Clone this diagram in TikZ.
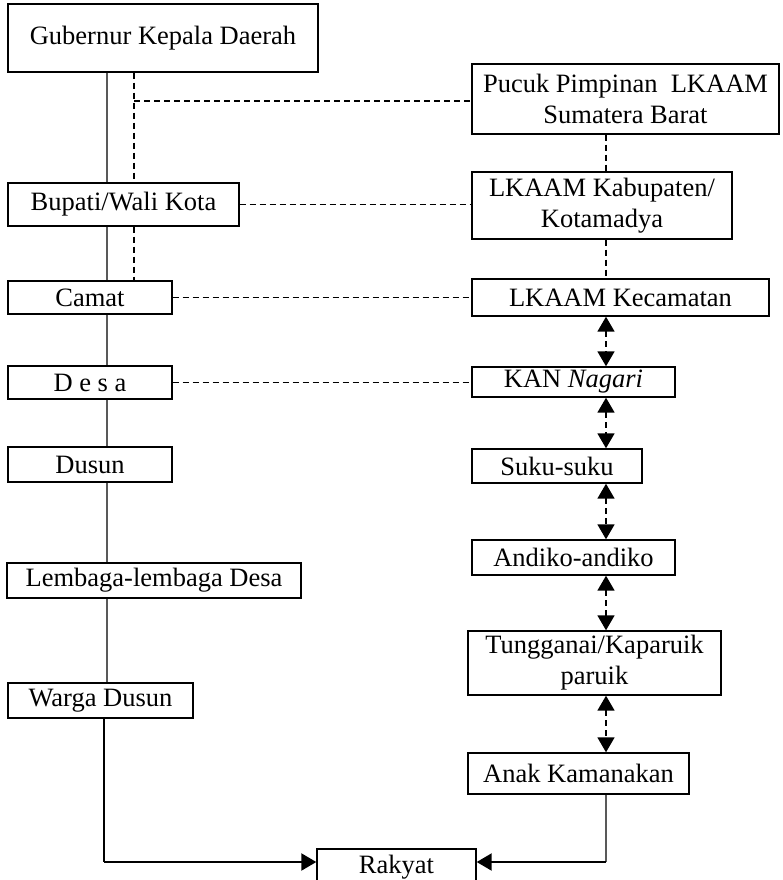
\documentclass[tikz,border=0pt]{standalone}
\usepackage{fontspec}
\setmainfont{Liberation Serif}
\usetikzlibrary{arrows.meta}
\newcommand{\mybx}[6]{\node[boxst, minimum width={(#4-#2)*1pt}, minimum height={(#5-#3)*1pt}] (#1) at ({(#2+#4)/2},{(#3+#5)/2}) {#6};}
\begin{document}
\begin{tikzpicture}[x=1pt,y=-1pt,
  boxst/.style={draw, line width=1.4pt, fill=white, inner sep=0pt, align=center, font=\fontsize{26.5}{31}\selectfont},
  solidln/.style={draw=black!65, line width=1.1pt},
  dashln/.style={draw=black, line width=1.7pt, dash pattern=on 6pt off 4pt},
  tip/.tip={Triangle[length=15pt,width=17pt]},
  dblarr/.style={dashln, {tip}-{tip}},
  onearr/.style={draw=black, line width=2.2pt, -{tip}}
]
\useasboundingbox (0,0) rectangle (782,880);
\clip (0,0) rectangle (782,880);
% left column
\mybx{gub}{8}{4}{318}{72}{Gubernur Kepala Daerah}
\mybx{bup}{8}{183}{239}{226}{Bupati/Wali Kota}
\mybx{cam}{8}{281}{172}{314}{Camat}
\mybx{desa}{8}{366}{172}{399}{D e s a}
\mybx{dusun}{8}{447}{172}{482}{Dusun}
\mybx{lemb}{7}{563}{301}{598}{Lembaga-lembaga Desa}
\mybx{warga}{8}{683}{193}{718}{Warga Dusun}
% right column
\mybx{pucuk}{472}{64}{779}{134}{Pucuk Pimpinan~~LKAAM\\Sumatera Barat}
\mybx{kab}{472}{172}{732}{239}{LKAAM Kabupaten/\\Kotamadya}
\mybx{kec}{472}{279}{769}{316}{LKAAM Kecamatan}
\mybx{kan}{472}{367}{675}{397}{KAN \textit{Nagari}}
\mybx{suku}{472}{449}{642}{483}{Suku-suku}
\mybx{andiko}{472}{540}{675}{575}{Andiko-andiko}
\mybx{tung}{468}{631}{721}{695}{Tungganai/Kaparuik\\paruik}
\mybx{anak}{468}{753}{689}{794}{Anak Kamanakan}
\mybx{rakyat}{317}{849}{476}{886}{Rakyat}
% helper coordinates
\coordinate (lx) at (107,0);
\coordinate (dx) at (134,0);
\coordinate (rx) at (606,0);
\coordinate (c1) at (134,101);
\coordinate (bl) at (104,862);
\coordinate (br) at (606,862);
% solid left chain
\draw[solidln] (gub.south -| lx) -- (bup.north -| lx);
\draw[solidln] (bup.south -| lx) -- (cam.north -| lx);
\draw[solidln] (cam.south -| lx) -- (desa.north -| lx);
\draw[solidln] (desa.south -| lx) -- (dusun.north -| lx);
\draw[solidln] (dusun.south -| lx) -- (lemb.north -| lx);
\draw[solidln] (lemb.south -| lx) -- (warga.north -| lx);
% dashed left vertical and horizontals
\draw[dashln] (gub.south -| dx) -- (bup.north -| dx);
\draw[dashln] (bup.south -| dx) -- (cam.north -| dx);
\draw[dashln] (c1) -- (c1 -| pucuk.west);
\draw[dashln] (bup.east) -- (bup.east -| kab.west);
\draw[dashln] (cam.east) -- (cam.east -| kec.west);
\draw[dashln] (desa.east) -- (desa.east -| kan.west);
% right vertical
\draw[dashln] (pucuk.south -| rx) -- (kab.north -| rx);
\draw[dashln] (kab.south -| rx) -- (kec.north -| rx);
\draw[dblarr] (kec.south -| rx) -- (kan.north -| rx);
\draw[dblarr] (kan.south -| rx) -- (suku.north -| rx);
\draw[dblarr] (suku.south -| rx) -- (andiko.north -| rx);
\draw[dblarr] (andiko.south -| rx) -- (tung.north -| rx);
\draw[dblarr] (tung.south -| rx) -- (anak.north -| rx);
% to Rakyat
\draw[draw=black, line width=1.3pt] (warga.south -| bl) -- (bl);
\draw[onearr] (bl) -- (bl -| rakyat.west);
\draw[solidln] (anak.south -| br) -- (br);
\draw[onearr] (br) -- (br -| rakyat.east);
\end{tikzpicture}
\end{document}
